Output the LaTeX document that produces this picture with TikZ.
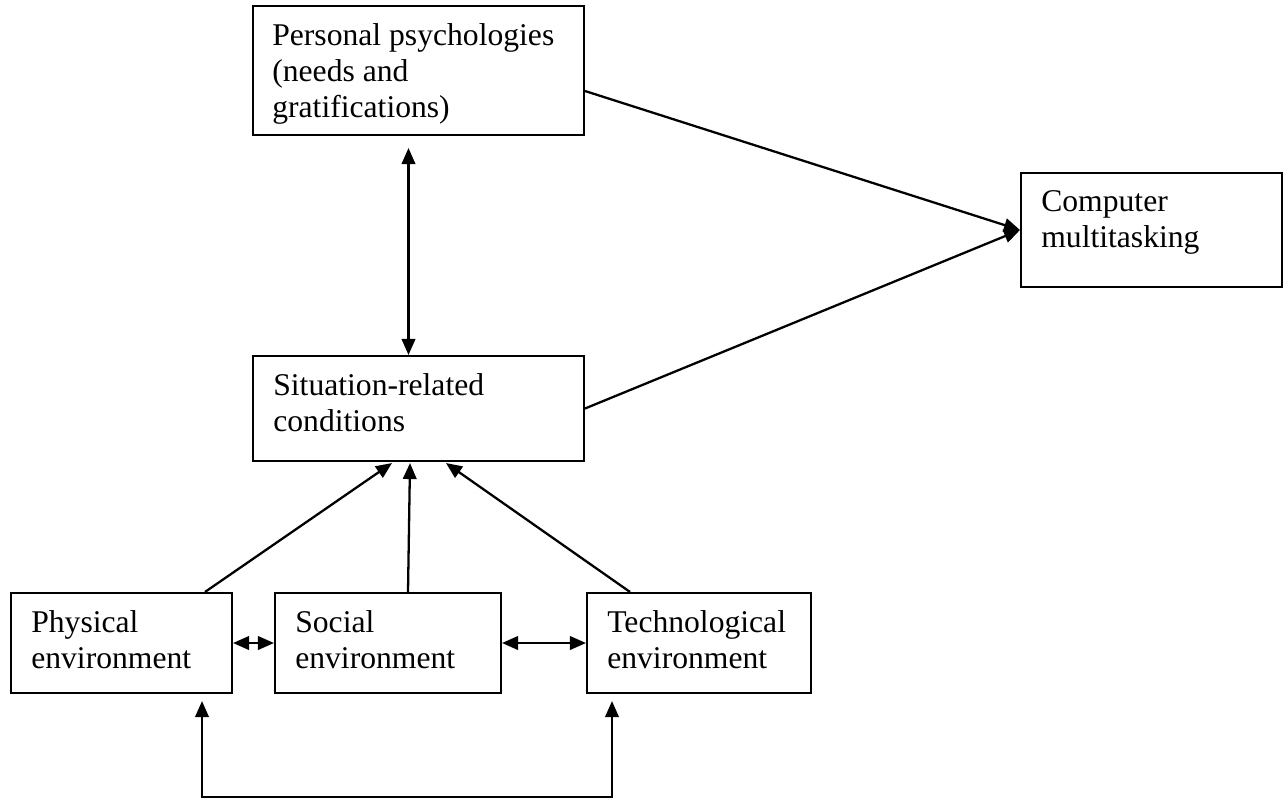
\documentclass[tikz,border=0pt]{standalone}
\usepackage{fontspec}
\setmainfont{Liberation Serif}
\usetikzlibrary{calc,arrows.meta}

\begin{document}
\begin{tikzpicture}[x=0.02cm, y=-0.02cm,
    box/.style={draw, line width=1.2pt, inner sep=0pt},
    txt/.style={anchor=north west, align=left, inner sep=0pt, font=\fontsize{18}{20.5}\selectfont},
    tip/.tip={Triangle[length=0.32cm, width=0.27cm]},
    arr/.style={line width=1.3pt, -tip},
    dbl/.style={line width=1.3pt, tip-tip}]
    %%%%% START %%%%%
    \useasboundingbox (0, 0) rectangle (1288, 799);

    \node[box, minimum width=6.62cm, minimum height=2.58cm] (psych) at (418.5, 70.5) {};
    \node[box, minimum width=5.22cm, minimum height=2.28cm] (comp) at (1151.5, 230) {};
    \node[box, minimum width=6.62cm, minimum height=2.10cm] (sit) at (418.5, 408.5) {};
    \node[box, minimum width=4.42cm, minimum height=2.00cm] (phys) at (121.5, 643) {};
    \node[box, minimum width=4.52cm, minimum height=2.00cm] (soc) at (388, 643) {};
    \node[box, minimum width=4.48cm, minimum height=2.00cm] (tech) at (699, 643) {};

    \node[txt] (psychtxt) at ($(psych.north west)+(20, 18)$) {Personal psychologies\\(needs and\\gratifications)};
    \node[txt] (comptxt) at ($(comp.north west)+(21, 18)$) {Computer\\multitasking};
    \node[txt] (sittxt) at ($(sit.north west)+(21, 18)$) {Situation-related\\conditions};
    \node[txt] (phystxt) at ($(phys.north west)+(21, 18)$) {Physical\\environment};
    \node[txt] (soctxt) at ($(soc.north west)+(21, 18)$) {Social\\environment};
    \node[txt] (techtxt) at ($(tech.north west)+(21, 18)$) {Technological\\environment};

    % to computer multitasking
    \draw[arr] ($(psych.east)+(0, 20.5)$) -- (comp.west);
    \draw[arr] (sit.east) -- (comp.west);

    % psychologies and situation
    \draw[dbl] ($(psych.south)+(-10, 12)$) -- ($(sit.north)+(-10, 0)$);

    % environments to situation
    \draw[arr] ($(phys.north)+(83.5, 0)$) -- ($(sit.south)+(-26.5, 1)$);
    \draw[arr] ($(soc.north)+(20, 0)$) -- ($(sit.south)+(-8.5, 1)$);
    \draw[arr] ($(tech.north)+(-69, 0)$) -- ($(sit.south)+(27.5, 1)$);

    % between environments
    \draw[dbl] (phys.east) -- (soc.west);
    \draw[dbl] (soc.east) -- (tech.west);
    \draw[dbl] ($(phys.south)+(80.5, 7)$) -- ++(0, 96) -| ($(tech.south)+(-87, 7)$);
    %%%%% END %%%%%
\end{tikzpicture}
\end{document}
